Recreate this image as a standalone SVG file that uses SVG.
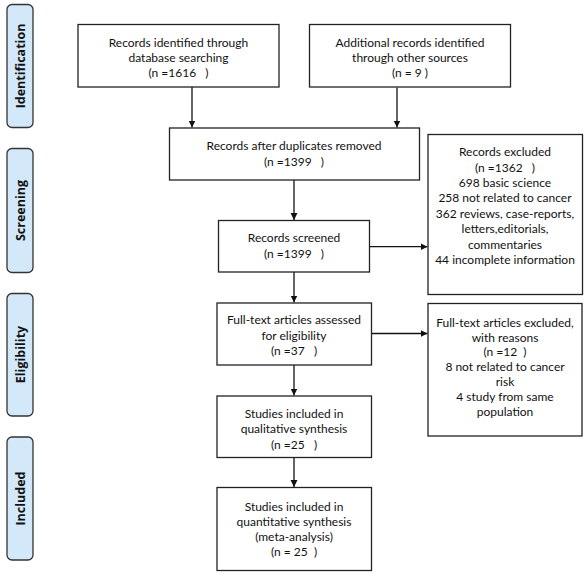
<svg xmlns="http://www.w3.org/2000/svg" width="584" height="576" viewBox="0 0 584 576">
<style>
.box{fill:#fff;stroke:#222;stroke-width:1.3}
.side{fill:#d3e8f9;stroke:#333;stroke-width:1.3}
.t{font-family:Lato,"Open Sans",sans-serif;font-size:12px;fill:#111;text-anchor:middle;white-space:pre}
.s{font-family:"Open Sans",Lato,sans-serif;font-size:12.5px;font-weight:bold;fill:#111;text-anchor:middle}
.c{stroke:#111;stroke-width:1.3;fill:none;marker-end:url(#ah)}
</style>
<defs>
<marker id="ah" markerWidth="8" markerHeight="8" refX="7" refY="4" orient="auto" markerUnits="userSpaceOnUse">
<path d="M0,0.5 L7,4 L0,7.5 Z" fill="#111"/>
</marker>
</defs>
<rect width="584" height="576" fill="#fff"/>
<g id="phase-identification"><rect class="side" x="7" y="4.5" width="26" height="123" rx="5"/><text class="s" transform="translate(25,66) rotate(-90)">Identification</text></g>
<g id="phase-screening"><rect class="side" x="7" y="148.5" width="26" height="124" rx="5"/><text class="s" transform="translate(25,210.5) rotate(-90)">Screening</text></g>
<g id="phase-eligibility"><rect class="side" x="7" y="293.5" width="26" height="122.5" rx="5"/><text class="s" transform="translate(25,354.5) rotate(-90)">Eligibility</text></g>
<g id="phase-included"><rect class="side" x="7" y="437" width="26" height="123" rx="5"/><text class="s" transform="translate(25,498.5) rotate(-90)">Included</text></g>

<g id="connectors">
<path class="c" d="M192,87 V127.5"/>
<path class="c" d="M397,87.5 V127.5"/>
<path class="c" d="M294,180 V220"/>
<path class="c" d="M369.5,246.7 H427.5"/>
<path class="c" d="M294,272 V302.5"/>
<path class="c" d="M371.5,333.5 H427.5"/>
<path class="c" d="M294,365 V395.5"/>
<path class="c" d="M294,457.5 V487"/>
</g>

<g id="n-database"><rect class="box" x="78" y="24.5" width="201" height="62.5"/>
<text class="t" x="178.5" y="47">Records identified through</text>
<text class="t" x="178.5" y="62">database searching</text>
<text class="t" x="178.5" y="77">(n =1616   )</text></g>

<g id="n-other"><rect class="box" x="309.5" y="24.5" width="201" height="62.5"/>
<text class="t" x="410" y="47">Additional records identified</text>
<text class="t" x="410" y="62">through other sources</text>
<text class="t" x="410" y="77">(n = 9 )</text></g>

<g id="n-dup"><rect class="box" x="169.5" y="128" width="250" height="52"/>
<text class="t" x="294" y="150">Records after duplicates removed</text>
<text class="t" x="294" y="165.5">(n =1399   )</text></g>

<g id="n-excluded"><rect class="box" x="428" y="134.5" width="154.5" height="160"/>
<text class="t" x="505" y="156">Records excluded</text>
<text class="t" x="505" y="171.5">(n =1362   )</text>
<text class="t" x="505" y="187">698 basic science</text>
<text class="t" x="505" y="202">258 not related to cancer</text>
<text class="t" x="505" y="217.5">362 reviews, case-reports,</text>
<text class="t" x="505" y="233">letters,editorials,</text>
<text class="t" x="505" y="248.5">commentaries</text>
<text class="t" x="505" y="264">44 incomplete information</text></g>

<g id="n-screened"><rect class="box" x="218.5" y="220.5" width="151" height="51.5"/>
<text class="t" x="294" y="242">Records screened</text>
<text class="t" x="294" y="257.5">(n =1399   )</text></g>

<g id="n-fulltext"><rect class="box" x="217" y="303" width="154.5" height="62"/>
<text class="t" x="294" y="324">Full-text articles assessed</text>
<text class="t" x="294" y="339.5">for eligibility</text>
<text class="t" x="294" y="355">(n =37   )</text></g>

<g id="n-ftexcluded"><rect class="box" x="428" y="303.5" width="154" height="132.5"/>
<text class="t" x="505" y="327">Full-text articles excluded,</text>
<text class="t" x="505" y="341.5">with reasons</text>
<text class="t" x="505" y="356">(n =12  )</text>
<text class="t" x="505" y="371">8 not related to cancer</text>
<text class="t" x="505" y="385.5">risk</text>
<text class="t" x="505" y="400.5">4 study from same</text>
<text class="t" x="505" y="415.5">population</text></g>

<g id="n-qual"><rect class="box" x="217" y="396" width="154.5" height="61.5"/>
<text class="t" x="294" y="418">Studies included in</text>
<text class="t" x="294" y="433">qualitative synthesis</text>
<text class="t" x="294" y="448.5">(n =25   )</text></g>

<g id="n-quant"><rect class="box" x="217" y="487.5" width="154.5" height="83"/>
<text class="t" x="294" y="510.5">Studies included in</text>
<text class="t" x="294" y="525.5">quantitative synthesis</text>
<text class="t" x="294" y="541">(meta-analysis)</text>
<text class="t" x="294" y="556">(n = 25  )</text></g>
</svg>
